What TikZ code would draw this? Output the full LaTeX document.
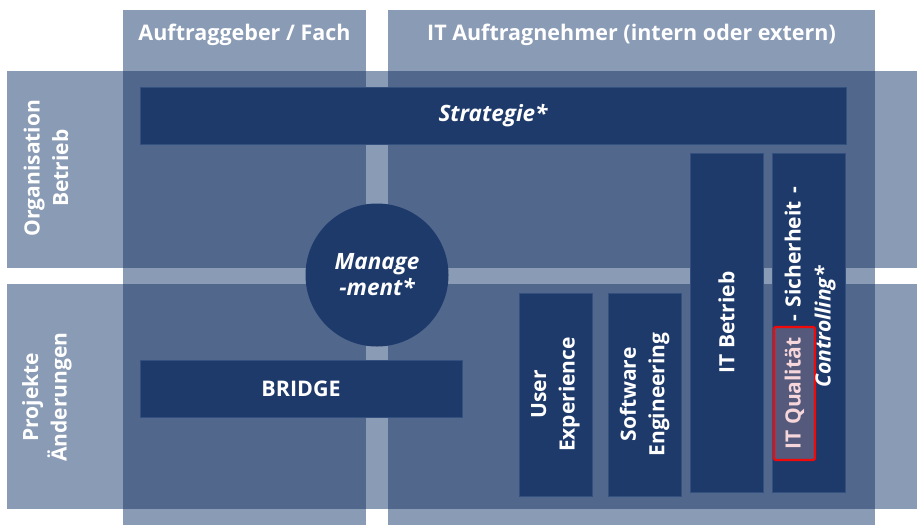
\documentclass[tikz,border=0pt]{standalone}
\usepackage{fontspec}
\setmainfont{Open Sans}
\definecolor{lightb}{HTML}{8A9BB5}
\definecolor{midb}{HTML}{51688C}
\definecolor{darkb}{HTML}{1E3A6B}
\definecolor{edgeb}{HTML}{34507E}
\definecolor{hlfill}{HTML}{555A7C}
\definecolor{hltext}{HTML}{F6D6DA}
\definecolor{hlred}{HTML}{F00A0A}
\begin{document}
\begin{tikzpicture}[x=1pt,y=-1pt,
  band/.style={fill=lightb,draw=none},
  over/.style={fill=midb,draw=none},
  darkbox/.style={fill=darkb,draw=edgeb,line width=0.8pt,inner sep=0pt},
  lbl/.style={text=white,font=\bfseries\fontsize{21.5}{28}\selectfont,align=center,inner sep=0pt},
  ilbl/.style={lbl,font=\bfseries\itshape\fontsize{22.5}{26}\selectfont},
  vlbl/.style={lbl,rotate=90,font=\bfseries\fontsize{21}{28.5}\selectfont}]
\useasboundingbox (0,0) rectangle (917,525);
% bands
\fill[band] (123,10) rectangle (366,525);
\fill[band] (388,10) rectangle (875,525);
\fill[band] (7,71) rectangle (917,268);
\fill[band] (7,284) rectangle (917,509);
\fill[over] (123,71) rectangle (366,268);
\fill[over] (388,71) rectangle (875,268);
\fill[over] (123,284) rectangle (366,509);
\fill[over] (388,284) rectangle (875,509);
% headers
\node[lbl] (h1) at (244.5,35) {Auftraggeber / Fach};
\node[lbl] (h2) at (631.5,35) {IT Auftragnehmer (intern oder extern)};
\node[vlbl] (r1) at (46,168) {Organisation\\Betrieb};
\node[vlbl] (r2) at (47,397) {Projekte\\Änderungen};
% boxes
\node[darkbox,minimum width=706pt,minimum height=57pt] (strat) at (493,115.5) {};
\node[ilbl] (stratt) at (strat.center) {Strategie*};
\node[darkbox,minimum width=322pt,minimum height=57pt] (bridge) at (301,388.5) {};
\node[lbl] (bridget) at (bridge.center) {BRIDGE};
\node[circle,fill=darkb,draw=none,minimum size=143pt,inner sep=0pt] (mgmt) at (377,275) {};
\node[ilbl] (mgmtt) at (mgmt.center) {Manage\\-ment*};
\node[darkbox,minimum width=73pt,minimum height=203pt] (ux) at (555.5,394.5) {};
\node[vlbl] (uxt) at (ux.center) {User\\Experience};
\node[darkbox,minimum width=73pt,minimum height=203pt] (se) at (644.5,394.5) {};
\node[vlbl] (set) at (se.center) {Software\\Engineering};
\node[darkbox,minimum width=73pt,minimum height=339pt] (itb) at (726.5,322.5) {};
\node[vlbl] (itbt) at (itb.center) {IT Betrieb};
\node[darkbox,minimum width=73pt,minimum height=339pt] (sich) at (808.5,322.5) {};
\node[vlbl,text=hltext,draw=hlred,fill=hlfill,line width=2.2pt,rounded corners=1.5pt,
  minimum width=133pt,minimum height=41pt] (hl) at (794.5,393.5) {IT Qualität};
\node[vlbl,anchor=base west,inner xsep=4pt] (sich1) at (hl.base east) {-\hspace{7.5pt}Sicherheit\hspace{7.5pt}-};
\node[vlbl,font=\bfseries\itshape\fontsize{21}{28}\selectfont] (sich2) at (825,327) {Controlling*};
\end{tikzpicture}
\end{document}
